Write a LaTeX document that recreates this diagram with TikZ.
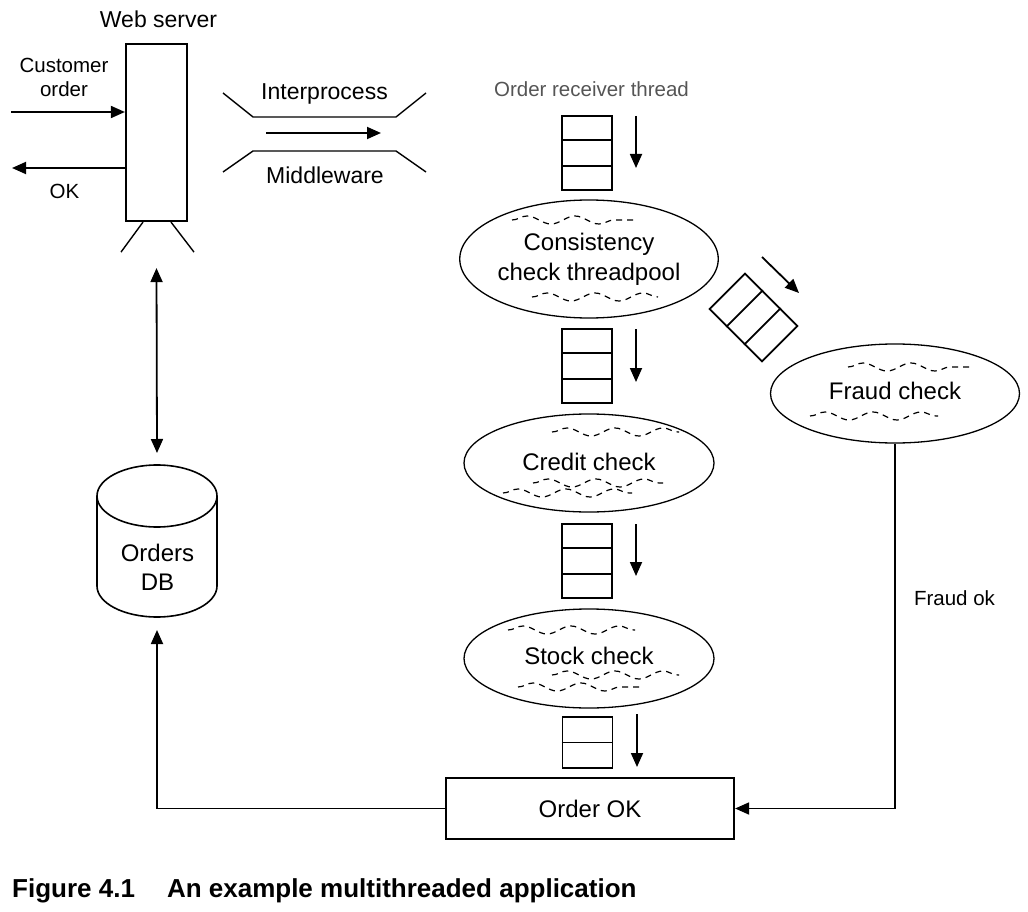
\documentclass[tikz,border=0pt]{standalone}
\usepackage{fontspec}
\setmainfont{Liberation Sans}
\usetikzlibrary{arrows.meta,calc,decorations.pathmorphing,shapes.geometric}
\definecolor{rgrey}{HTML}{555555}
\tikzset{
  lbl/.style={font=\fontsize{23}{28}\selectfont, inner sep=0pt},
  sml/.style={font=\fontsize{20.5}{24}\selectfont, inner sep=0pt},
  box/.style={draw, line width=2.2pt, inner sep=0pt},
  ell/.style={draw, ellipse, line width=1.3pt, inner sep=0pt, font=\fontsize{24}{30}\selectfont, align=center},
  arr/.style={line width=1.8pt, -{Triangle[length=14pt,width=12pt]}},
  darr/.style={line width=1.8pt, {Triangle[length=14pt,width=12pt]}-{Triangle[length=14pt,width=12pt]}},
  thread/.style={line width=1.2pt, dash pattern=on 6pt off 5pt, decorate, decoration={snake, segment length=48pt, amplitude=4pt}},
  queue/.style={draw, line width=1.8pt, minimum width=50pt, minimum height=74pt, inner sep=0pt},
  queuetwo/.style={draw, line width=1.8pt, minimum width=50pt, minimum height=51pt, inner sep=0pt},
  divider/.style={line width=1.8pt},
  thin/.style={line width=1.4pt}
}
\begin{document}
\begin{tikzpicture}[x=1pt,y=-1pt]
\useasboundingbox (0,0) rectangle (1028,912);

% ---- web server
\node[box, minimum width=61pt, minimum height=177pt] (ws) at (156.5,132.5) {};
\node[lbl, anchor=base] (wsl) at (158.5,28) {Web server};
\draw[thin] ([xshift=-13.5pt]ws.south) -- ++(-22,30);
\draw[thin] ([xshift=14.5pt]ws.south) -- ++(23,30);
\node[sml, align=center] (cust) at (64,77) {Customer\\order};
\coordinate (cin) at (11,112);
\coordinate (cout) at (12,168);
\draw[arr] (cin) -- (cin -| ws.west);
\draw[arr] (cout -| ws.west) -- (cout);
\node[sml, anchor=base] (okl) at (64.5,199) {OK};

% ---- interprocess middleware
\draw[thin] (223,93) -- (253,117) -- (396,117) -- (426,93);
\draw[thin] (223,172) -- (253,151) -- (396,151) -- (426,172);
\node[lbl, anchor=base] (ipl) at (324.5,100) {Interprocess};
\node[lbl, anchor=base] (mwl) at (325,184) {Middleware};
\coordinate (ipa) at (266,133);
\coordinate (ipb) at (381,133);
\draw[arr] (ipa) -- (ipb);

% ---- order receiver thread
\node[sml, text=rgrey, anchor=base] (ort) at (591.5,97) {Order receiver thread};

% ---- queues
\node[queue] (q1) at (587,153) {};
\node[queue] (q2) at (587,366) {};
\node[queue] (q3) at (587,561) {};
\node[queuetwo] (q4) at (587.5,742.5) {};
\node[queue, rotate=45] (qd) at (753.5,317.5) {};
\foreach \q in {q1,q2,q3,qd}{
  \draw[divider] ($(\q.north west)!1/3!(\q.south west)$) -- ($(\q.north east)!1/3!(\q.south east)$);
  \draw[divider] ($(\q.north west)!2/3!(\q.south west)$) -- ($(\q.north east)!2/3!(\q.south east)$);
}
\draw[divider] (q4.west) -- (q4.east);

% queue arrows
\coordinate (a1s) at (636,116); \coordinate (a1e) at (636,168);
\coordinate (a2s) at (636,329); \coordinate (a2e) at (636,382);
\coordinate (a3s) at (636,524); \coordinate (a3e) at (636,576);
\coordinate (a4s) at (637,714); \coordinate (a4e) at (637,767);
\coordinate (ads) at (762,257); \coordinate (ade) at (799,293);
\draw[arr] (a1s) -- (a1e);
\draw[arr] (a2s) -- (a2e);
\draw[arr] (a3s) -- (a3e);
\draw[arr] (a4s) -- (a4e);
\draw[arr] (ads) -- (ade);

% ---- thread pools
\node[ell, minimum width=248pt, minimum height=118pt] (cons) at (589,259) {Consistency\\check threadpool};
\node[ell, minimum width=249pt, minimum height=99pt, text height=17.5pt, text depth=6.5pt] (fraud) at (895,393.5) {Fraud check};
\node[ell, minimum width=250pt, minimum height=98pt, text height=17.5pt, text depth=3.5pt] (credit) at (589,463) {Credit check};
\node[ell, minimum width=250pt, minimum height=99pt, text height=17.5pt, text depth=6.5pt] (stock) at (589,658.5) {Stock check};

\draw[thread] ([shift={(-77,-39)}]cons.center) -- ([shift={(44,-39)}]cons.center);
\draw[thread] ([shift={(-57,38)}]cons.center) -- ([shift={(69,38)}]cons.center);
\draw[thread] ([shift={(-47,-26.5)}]fraud.center) -- ([shift={(75,-26.5)}]fraud.center);
\draw[thread] ([shift={(-85,22.5)}]fraud.center) -- ([shift={(43,22.5)}]fraud.center);
\draw[thread] ([shift={(-37,-31)}]credit.center) -- ([shift={(90,-31)}]credit.center);
\draw[thread] ([shift={(-56,20)}]credit.center) -- ([shift={(74,20)}]credit.center);
\draw[thread] ([shift={(-86,30)}]credit.center) -- ([shift={(43,30)}]credit.center);
\draw[thread] ([shift={(-81,-28.5)}]stock.center) -- ([shift={(46,-28.5)}]stock.center);
\draw[thread] ([shift={(-37,16.5)}]stock.center) -- ([shift={(90,16.5)}]stock.center);
\draw[thread] ([shift={(-71,28.5)}]stock.center) -- ([shift={(54,28.5)}]stock.center);

% ---- order OK
\node[box, minimum width=288pt, minimum height=61pt, font=\fontsize{24}{28}\selectfont] (ook) at (590,808.5) {Order OK};
\node[sml, anchor=base] (fok) at (954.5,605) {Fraud ok};

% ---- orders DB
\coordinate (dbtop) at (157,465);
\coordinate (dbbot) at (157,617);
\draw[line width=1.6pt] (157,496) ellipse [x radius=60pt, y radius=31pt];
\draw[line width=1.6pt] (97,496) -- (97,586) arc[start angle=180, end angle=360, x radius=60pt, y radius=31pt] -- (217,496);
\node[align=center, inner sep=0pt, font=\fontsize{24}{29}\selectfont] (dbl) at (157.5,567) {Orders\\DB};

% ---- connectors
\draw[darr] ([yshift=-46pt]ws.south) -- ([yshift=12pt]dbtop);
\draw[arr] (ook.west) -| ([yshift=-13pt]dbbot);
\draw[arr] (fraud.south) |- (ook.east);

% ---- caption
\node[anchor=base west, inner sep=0pt, font=\bfseries\fontsize{26}{30}\selectfont] (cap) at (12,897) {Figure 4.1\hspace{32pt}An example multithreaded application};
\end{tikzpicture}
\end{document}
